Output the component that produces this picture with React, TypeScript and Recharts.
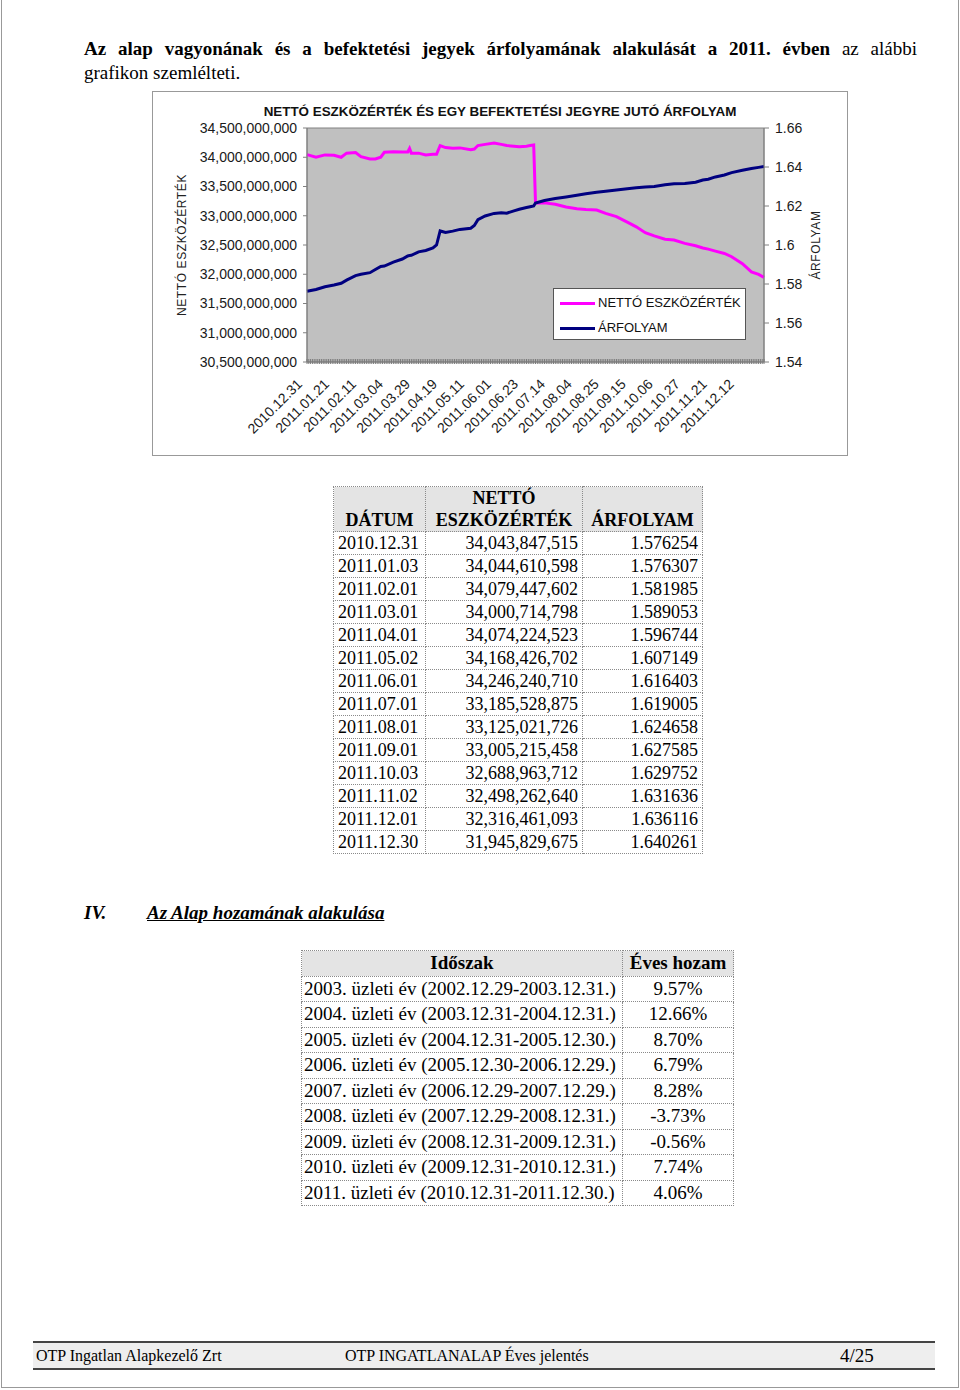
import { Legend, Line, LineChart, ReferenceArea, XAxis, YAxis } from "recharts";

const SANS = '"Liberation Sans", Arial, sans-serif';
const SERIF = '"Liberation Serif", "Times New Roman", serif';

// trading-day index (0 = 2010.12.31)
const days = [
  0, 5, 10, 15, 19, 22, 27, 30, 35, 38, 41, 43, 48, 53, 56, 57, 58, 62, 66, 70, 72, 74, 77, 81, 85, 91, 93, 95,
  99, 104, 108, 111, 115, 118, 122, 124, 126, 127, 132, 138, 144, 150, 155, 161, 166, 172, 178, 183, 188, 193,
  199, 204, 210, 216, 220, 223, 227, 232, 236, 242, 247, 251, 254,
];

// nettó eszközérték, milliárd Ft
const navBillions = [
  34.044, 34.0, 34.04, 34.035, 34.0, 34.07, 34.08, 34.01, 33.97, 33.97, 34.0, 34.085, 34.095, 34.09, 34.09,
  34.15, 34.07, 34.07, 34.04, 34.05, 34.05, 34.2, 34.165, 34.155, 34.16, 34.13, 34.14, 34.2, 34.22, 34.245,
  34.22, 34.2, 34.19, 34.18, 34.19, 34.2, 34.21, 33.22, 33.22, 33.195, 33.15, 33.12, 33.105, 33.098, 33.04,
  32.985, 32.89, 32.81, 32.71, 32.655, 32.6, 32.585, 32.527, 32.486, 32.45, 32.43, 32.396, 32.356, 32.3, 32.18,
  32.04, 31.997, 31.946,
];

const prices = [
  1.5763, 1.5772, 1.5786, 1.5795, 1.5804, 1.582, 1.5843, 1.585, 1.5858, 1.5874, 1.589, 1.5892, 1.5912, 1.5928,
  1.5944, 1.5946, 1.5947, 1.5965, 1.5972, 1.5985, 1.6, 1.6072, 1.6064, 1.6071, 1.608, 1.6086, 1.61, 1.613,
  1.6149, 1.6162, 1.6165, 1.6163, 1.6175, 1.6183, 1.6192, 1.6196, 1.62, 1.6215, 1.6228, 1.6238, 1.6246, 1.6255,
  1.6263, 1.6271, 1.6276, 1.6282, 1.6289, 1.6293, 1.6297, 1.63, 1.6309, 1.6314, 1.6316, 1.6322, 1.6333, 1.6337,
  1.6349, 1.6359, 1.6371, 1.6383, 1.6392, 1.6398, 1.6403,
];

// one label every 15 trading days
const xLabels = [
  "2010.12.31", "2011.01.21", "2011.02.11", "2011.03.04", "2011.03.29", "2011.04.19", "2011.05.11",
  "2011.06.01", "2011.06.23", "2011.07.14", "2011.08.04", "2011.08.25", "2011.09.15", "2011.10.06",
  "2011.10.27", "2011.11.21", "2011.12.12",
];
const LABEL_STEP = 15;
const LAST_DAY = 254;

const navTicks = [30.5e9, 31e9, 31.5e9, 32e9, 32.5e9, 33e9, 33.5e9, 34e9, 34.5e9];
const priceTicks = [1.54, 1.56, 1.58, 1.6, 1.62, 1.64, 1.66];

const tableDates = [
  "2010.12.31", "2011.01.03", "2011.02.01", "2011.03.01", "2011.04.01", "2011.05.02", "2011.06.01",
  "2011.07.01", "2011.08.01", "2011.09.01", "2011.10.03", "2011.11.02", "2011.12.01", "2011.12.30",
];
const tableNav = [
  "34,043,847,515", "34,044,610,598", "34,079,447,602", "34,000,714,798", "34,074,224,523", "34,168,426,702",
  "34,246,240,710", "33,185,528,875", "33,125,021,726", "33,005,215,458", "32,688,963,712", "32,498,262,640",
  "32,316,461,093", "31,945,829,675",
];
const tablePrices = [
  "1.576254", "1.576307", "1.581985", "1.589053", "1.596744", "1.607149", "1.616403", "1.619005", "1.624658",
  "1.627585", "1.629752", "1.631636", "1.636116", "1.640261",
];

const periods = [
  "2003. üzleti év (2002.12.29-2003.12.31.)",
  "2004. üzleti év (2003.12.31-2004.12.31.)",
  "2005. üzleti év (2004.12.31-2005.12.30.)",
  "2006. üzleti év (2005.12.30-2006.12.29.)",
  "2007. üzleti év (2006.12.29-2007.12.29.)",
  "2008. üzleti év (2007.12.29-2008.12.31.)",
  "2009. üzleti év (2008.12.31-2009.12.31.)",
  "2010. üzleti év (2009.12.31-2010.12.31.)",
  "2011. üzleti év (2010.12.31-2011.12.30.)",
];
const yields = ["9.57%", "12.66%", "8.70%", "6.79%", "8.28%", "-3.73%", "-0.56%", "7.74%", "4.06%"];

const chartData = days.map((day, i) => ({ day, nav: navBillions[i] * 1e9, price: prices[i] }));
const dayTicks = Array.from({ length: LAST_DAY + 1 }, (_, i) => i);

function renderDateTick(props: any) {
  const { x, y, payload } = props;
  const d = payload.value as number;
  const label = d % LABEL_STEP === 0 ? xLabels[d / LABEL_STEP] : null;
  const tx = x - 4;
  const ty = y + 23;
  return (
    <g>
      <line x1={x} x2={x} y1={y - 3} y2={y + 2} stroke="#7a7a7a" />
      {label && (
        <text x={tx} y={ty} transform={`rotate(-45 ${tx} ${ty})`} textAnchor="end" fontSize={14} fill="#1a1a1a" fontFamily={SANS}>
          {label}
        </text>
      )}
    </g>
  );
}

function renderLegend(props: any) {
  const items = props.payload || [];
  return (
    <div style={{ width: 191, height: 50, background: "#fff", border: "1px solid #555", fontFamily: SANS, fontSize: 13, color: "#111" }}>
      {items.map((it: any, i: number) => (
        <div key={i} style={{ position: "relative", height: 25 }}>
          <div style={{ position: "absolute", left: 6, top: 13, width: 35, height: 3, background: it.color }} />
          <span style={{ position: "absolute", left: 44, top: 6, whiteSpace: "nowrap" }}>{it.value}</span>
        </div>
      ))}
    </div>
  );
}

const cell = { border: "1px dotted #8a8a8a", padding: "0 4px", height: 22, lineHeight: "22px" } as const;
const cell2 = { border: "1px dotted #8a8a8a", padding: "0 2px", height: 24.5, lineHeight: "24px" } as const;

export default function App() {
  return (
    <div style={{ position: "absolute", left: 0, top: 0, width: 960, height: 1390, background: "#fff", fontFamily: SERIF, color: "#000" }}>
      <div style={{ position: "absolute", left: 1, top: 0, width: 956, height: 1387, borderLeft: "1px solid #999", borderRight: "1px solid #999", borderBottom: "1px solid #999" }} />

      <div style={{ position: "absolute", left: 84, top: 37, width: 833, fontSize: 19, lineHeight: "24px" }}>
        <div style={{ textAlign: "justify", textAlignLast: "justify" }}>
          <b>Az alap vagyonának és a befektetési jegyek árfolyamának alakulását a 2011. évben</b> az alábbi
        </div>
        <div>grafikon szemlélteti.</div>
      </div>

      <div style={{ position: "absolute", left: 152, top: 91, width: 696, height: 365, border: "1px solid #999", boxSizing: "border-box", background: "#fff" }}>
        <div style={{ position: "absolute", left: 0, top: 12, width: 694, textAlign: "center", fontFamily: SANS, fontWeight: "bold", fontSize: 13.4, color: "#111" }}>
          NETTÓ ESZKÖZÉRTÉK ÉS EGY BEFEKTETÉSI JEGYRE JUTÓ ÁRFOLYAM
        </div>
        <div style={{ position: "absolute", left: 29, top: 153, width: 0, height: 0 }}>
          <div style={{ position: "absolute", transform: "translate(-50%, -50%) rotate(-90deg)", whiteSpace: "nowrap", fontFamily: SANS, fontSize: 12, letterSpacing: 0.6, color: "#222" }}>
            NETTÓ ESZKÖZÉRTÉK
          </div>
        </div>
        <div style={{ position: "absolute", left: 663, top: 153, width: 0, height: 0 }}>
          <div style={{ position: "absolute", transform: "translate(-50%, -50%) rotate(-90deg)", whiteSpace: "nowrap", fontFamily: SANS, fontSize: 12, letterSpacing: 0.6, color: "#222" }}>
            ÁRFOLYAM
          </div>
        </div>
        <LineChart width={694} height={363} data={chartData} margin={{ top: 36, right: 0, bottom: 0, left: 0 }}>
          <XAxis
            dataKey="day"
            type="number"
            domain={[0, LAST_DAY]}
            ticks={dayTicks}
            interval={0}
            height={93}
            tickSize={0}
            tickMargin={0}
            tickLine={false}
            axisLine={{ stroke: "#808080" }}
            tick={renderDateTick}
          />
          <YAxis
            yAxisId="left"
            width={154}
            domain={[30.5e9, 34.5e9]}
            ticks={navTicks}
            interval={0}
            tickFormatter={(v: number) => v.toLocaleString("en-US")}
            tick={{ fontSize: 14, fill: "#1a1a1a", fontFamily: SANS }}
            tickSize={4}
            tickMargin={6}
            axisLine={{ stroke: "#808080" }}
            tickLine={{ stroke: "#808080" }}
          />
          <YAxis
            yAxisId="right"
            orientation="right"
            width={83}
            domain={[1.54, 1.66]}
            ticks={priceTicks}
            interval={0}
            tickFormatter={(v: number) => String(v)}
            tick={{ fontSize: 14, fill: "#1a1a1a", fontFamily: SANS }}
            tickSize={5}
            tickMargin={6}
            axisLine={{ stroke: "#808080" }}
            tickLine={{ stroke: "#808080" }}
          />
          <ReferenceArea yAxisId="left" x1={0} x2={LAST_DAY} y1={30.5e9} y2={34.5e9} fill="#C0C0C0" fillOpacity={1} stroke="#808080" />
          <Line yAxisId="left" dataKey="nav" name="NETTÓ ESZKÖZÉRTÉK" stroke="#FF00FF" strokeWidth={3} dot={false} isAnimationActive={false} />
          <Line yAxisId="right" dataKey="price" name="ÁRFOLYAM" stroke="#000080" strokeWidth={3} dot={false} isAnimationActive={false} />
          <Legend layout="vertical" align="center" verticalAlign="middle" wrapperStyle={{ left: 400, top: 196, width: 193 }} content={renderLegend} />
        </LineChart>
      </div>

      <table style={{ position: "absolute", left: 333, top: 486, borderCollapse: "collapse", fontSize: 18, tableLayout: "fixed", width: 369 }}>
        <colgroup>
          <col style={{ width: 92 }} />
          <col style={{ width: 157 }} />
          <col style={{ width: 120 }} />
        </colgroup>
        <thead>
          <tr style={{ background: "#e4e4e4" }}>
            <th style={{ ...cell, height: 44, lineHeight: "22px", verticalAlign: "bottom" }}>DÁTUM</th>
            <th style={{ ...cell, height: 44, lineHeight: "22px", verticalAlign: "bottom", padding: 0 }}>
              NETTÓ
              <br />
              ESZKÖZÉRTÉK
            </th>
            <th style={{ ...cell, height: 44, lineHeight: "22px", verticalAlign: "bottom", padding: 0 }}>ÁRFOLYAM</th>
          </tr>
        </thead>
        <tbody>
          {tableDates.map((d, i) => (
            <tr key={d}>
              <td style={cell}>{d}</td>
              <td style={{ ...cell, textAlign: "right" }}>{tableNav[i]}</td>
              <td style={{ ...cell, textAlign: "right" }}>{tablePrices[i]}</td>
            </tr>
          ))}
        </tbody>
      </table>

      <div style={{ position: "absolute", left: 84, top: 902, fontSize: 19, fontWeight: "bold", fontStyle: "italic" }}>IV.</div>
      <div style={{ position: "absolute", left: 147, top: 902, fontSize: 19, fontWeight: "bold", fontStyle: "italic", textDecoration: "underline" }}>
        Az Alap hozamának alakulása
      </div>

      <table style={{ position: "absolute", left: 301, top: 950, borderCollapse: "collapse", fontSize: 19, tableLayout: "fixed", width: 432 }}>
        <colgroup>
          <col style={{ width: 321 }} />
          <col style={{ width: 111 }} />
        </colgroup>
        <thead>
          <tr style={{ background: "#e4e4e4" }}>
            <th style={cell2}>Időszak</th>
            <th style={{ ...cell2, padding: 0, whiteSpace: "nowrap" }}>Éves hozam</th>
          </tr>
        </thead>
        <tbody>
          {periods.map((p, i) => (
            <tr key={p}>
              <td style={{ ...cell2, whiteSpace: "nowrap" }}>{p}</td>
              <td style={{ ...cell2, textAlign: "center" }}>{yields[i]}</td>
            </tr>
          ))}
        </tbody>
      </table>

      <div style={{ position: "absolute", left: 33, top: 1341, width: 902, height: 25, background: "#eeeeee", borderTop: "2px solid #444", borderBottom: "2px solid #444", fontSize: 16, lineHeight: "25px" }}>
        <span style={{ position: "absolute", left: 3 }}>OTP Ingatlan Alapkezelő Zrt</span>
        <span style={{ position: "absolute", left: 312 }}>OTP INGATLANALAP Éves jelentés</span>
        <span style={{ position: "absolute", left: 807, fontSize: 19 }}>4/25</span>
      </div>
    </div>
  );
}
